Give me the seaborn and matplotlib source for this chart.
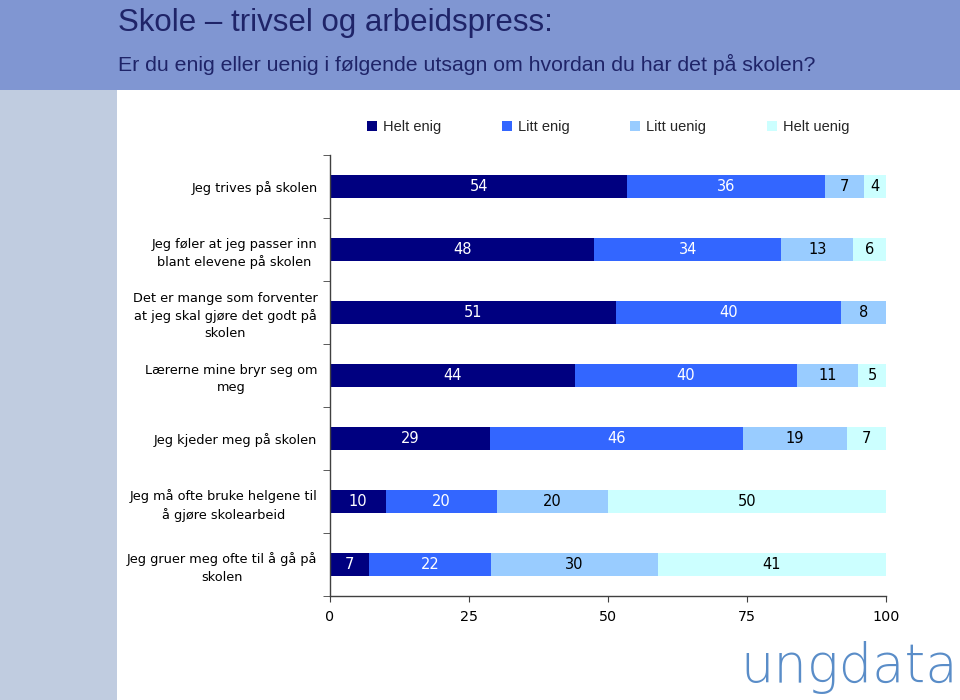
import numpy as np
import pandas as pd
import seaborn as sns
from matplotlib import pyplot as plt
from matplotlib.patches import Rectangle, Patch

# Data
statements = ['Jeg trives på skolen',
              'Jeg føler at jeg passer inn\nblant elevene på skolen',
              'Det er mange som forventer\nat jeg skal gjøre det godt på\nskolen',
              'Lærerne mine bryr seg om\nmeg',
              'Jeg kjeder meg på skolen',
              'Jeg må ofte bruke helgene til\nå gjøre skolearbeid',
              'Jeg gruer meg ofte til å gå på\nskolen']
answers = ['Helt enig', 'Litt enig', 'Litt uenig', 'Helt uenig']
helt_enig = [54, 48, 51, 44, 29, 10, 7]
litt_enig = [36, 34, 40, 40, 46, 20, 22]
litt_uenig = [7, 13, 8, 11, 19, 20, 30]
helt_uenig = [4, 6, 0, 5, 7, 50, 41]
x_ticks = [0, 25, 50, 75, 100]

colors = ['#000080', '#3366FF', '#99CCFF', '#CCFFFF']
text_colors = ['white', 'white', 'black', 'black']

df = pd.DataFrame({'Utsagn': statements, 'Helt enig': helt_enig, 'Litt enig': litt_enig,
                   'Litt uenig': litt_uenig, 'Helt uenig': helt_uenig})
raw = df[answers].to_numpy(dtype=float)
pct = raw / raw.sum(axis=1, keepdims=True) * 100   # bars fill 0-100
cum = pct.cumsum(axis=1)

sns.set_style('white')
plt.rcParams['font.family'] = ['DejaVu Sans']

fig = plt.figure(figsize=(9.6, 7), dpi=100)
fig.patch.set_facecolor('white')

# banner and side strip
fig.patches.append(Rectangle((0, 1 - 90 / 700), 1, 90 / 700, transform=fig.transFigure,
                             facecolor='#8096D2', edgecolor='none', zorder=0))
fig.patches.append(Rectangle((0, 0), 117 / 960, 1 - 90 / 700, transform=fig.transFigure,
                             facecolor='#C0CCE0', edgecolor='none', zorder=0))
fig.text(118 / 960, 1 - 31 / 700, 'Skole – trivsel og arbeidspress:', fontsize=22.5,
         color='#1F2468', family='Liberation Sans', va='baseline')
fig.text(118 / 960, 1 - 71 / 700, 'Er du enig eller uenig i følgende utsagn om hvordan du har det på skolen?',
         fontsize=15.3, color='#1F2468', family='Liberation Sans', va='baseline')

ax = fig.add_axes([330 / 960, 1 - 596 / 700, 556 / 960, 441 / 700])

# stacked bars: draw cumulative totals from the back to the front
for i in range(len(answers) - 1, -1, -1):
    sns.barplot(x=cum[:, i], y=df['Utsagn'], orient='h', color=colors[i],
                width=0.38, saturation=1, ax=ax, edgecolor='none', linewidth=0)

for r in range(len(statements)):
    left = 0
    for i in range(len(answers)):
        w = pct[r, i]
        if raw[r, i] > 0:
            ax.text(left + w / 2, r, f'{int(raw[r, i])}', ha='center', va='center',
                    fontsize=10.5, color=text_colors[i])
        left += w

ax.set_xlim(0, 100)
ax.set_ylim(6.5, -0.5)
ax.set_xticks(x_ticks)
ax.set_yticks(range(len(statements)))
ax.set_yticklabels(statements, multialignment='center', fontsize=9.3,
                   linespacing=1.42, color='black')
ax.set_yticks(np.arange(-0.5, 7, 1), minor=True)
ax.tick_params(axis='y', which='major', length=0, pad=9)
ax.tick_params(axis='y', which='minor', length=5, left=True, color='#404040')
ax.tick_params(axis='x', length=4, bottom=True, color='#404040', labelsize=10.3,
               labelcolor='black', pad=6)
ax.set_xlabel('')
ax.set_ylabel('')
for s in ['top', 'right']:
    ax.spines[s].set_visible(False)
for s in ['left', 'bottom']:
    ax.spines[s].set_color('#404040')
    ax.spines[s].set_linewidth(1)

handles = [Patch(facecolor=c, edgecolor='none') for c in colors]
fig.legend(handles, answers, loc='center', bbox_to_anchor=(608 / 960, 1 - 127 / 700), ncol=4,
           frameon=False, handlelength=0.7, handleheight=0.7, handletextpad=0.4,
           columnspacing=4.15, prop={'family': 'Liberation Sans', 'size': 10.5})

fig.text(958 / 960, 1 - 682 / 700, 'ungdata', fontsize=38, color='#5A8DC8',
         family='DejaVu Sans', fontweight='light', ha='right', va='baseline')

plt.savefig('out.png', dpi=100)
